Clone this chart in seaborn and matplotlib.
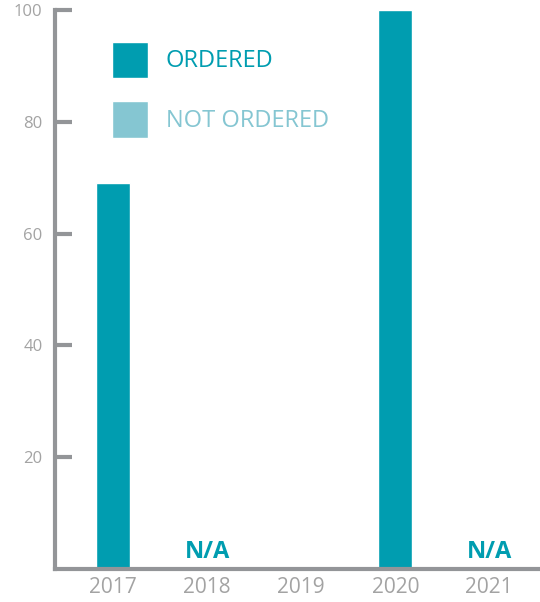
import matplotlib
matplotlib.use("Agg")
import matplotlib.pyplot as plt
from matplotlib.patches import Patch
import numpy as np
import pandas as pd
import seaborn as sns

years = ["2017", "2018", "2019", "2020", "2021"]
ordered = [69, np.nan, np.nan, 100, np.nan]
not_available = ["2018", "2021"]
y_ticks = [20, 40, 60, 80, 100]

teal = "#009DB0"
light_teal = "#85C6D2"
axis_gray = "#939598"
label_gray = "#A3A3A3"

sns.set_style("white")
plt.rcParams["font.family"] = ["Open Sans", "DejaVu Sans"]

df = pd.DataFrame({"year": years, "ordered": ordered})

fig = plt.figure(figsize=(5.4, 6.02), dpi=100)
ax = fig.add_axes([55 / 540, 1 - 569 / 602, 485 / 540, 559 / 602])

sns.barplot(data=df, x="year", y="ordered", order=years, color=teal,
            saturation=1, width=0.36, ax=ax)

for yr in not_available:
    ax.text(years.index(yr), 2, "N/A", ha="center", va="baseline",
            color=teal, fontsize=17, fontweight="bold")

ax.set_ylim(0, 100)
ax.set_xlim(-0.62, 4.54)
ax.set_yticks(y_ticks)
ax.set_xlabel("")
ax.set_ylabel("")

for side in ["top", "right"]:
    ax.spines[side].set_visible(False)
for side in ["left", "bottom"]:
    ax.spines[side].set_color(axis_gray)
    ax.spines[side].set_linewidth(3)
    ax.spines[side].set_capstyle("projecting")

ax.tick_params(axis="y", left=True, direction="in", length=12, width=3,
               color=axis_gray, labelcolor=label_gray, labelsize=12, pad=9)
ax.tick_params(axis="x", bottom=False, length=0, labelcolor=label_gray,
               labelsize=15, pad=6)

handles = [Patch(facecolor=teal, label="ORDERED"),
           Patch(facecolor=light_teal, label="NOT ORDERED")]
leg = ax.legend(handles=handles, loc="upper left", bbox_to_anchor=(0.1175, 0.943),
                frameon=False, fontsize=17, handlelength=1.53, handleheight=1.97,
                handletextpad=0.75, labelspacing=1.0, borderpad=0,
                borderaxespad=0)
for txt, c in zip(leg.get_texts(), [teal, light_teal]):
    txt.set_color(c)

fig.savefig("out.png", dpi=100)
